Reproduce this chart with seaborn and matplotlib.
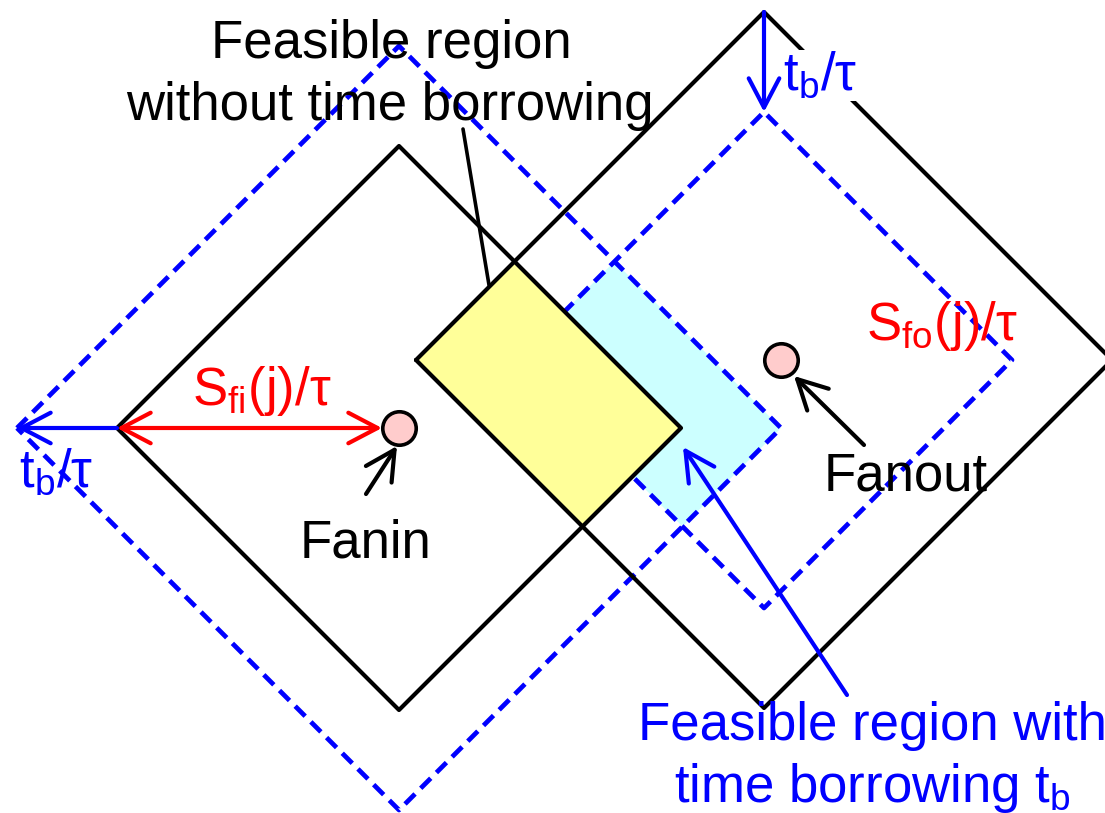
import pandas as pd
import seaborn as sns
import matplotlib.pyplot as plt

sns.set_theme(style="white")
plt.rcParams['font.family'] = ['Liberation Sans', 'DejaVu Sans']
plt.rcParams['text.color'] = 'black'
plt.rcParams['mathtext.fontset'] = 'custom'
plt.rcParams['mathtext.rm'] = 'Liberation Sans'
plt.rcParams['mathtext.it'] = 'Liberation Sans:italic'

# Diamonds: centre and half diagonal (pixel space, y down)
shape_names = ["fanin", "fanin_tb", "fanout", "fanout_tb"]
shape_cx = [399, 399, 764, 764]
shape_cy = [428, 428, 360, 360]
shape_half = [282, 382, 348, 248]
shape_kind = ["solid", "dashed", "solid", "dashed"]

# Fanin / fanout nodes
node_x = [399, 781]
node_y = [428, 360]
node_r = 17

BLUE = "#0000FF"
RED = "#FF0000"
FS = 38

rows = []
for name, x0, y0, h, kind in zip(shape_names, shape_cx, shape_cy, shape_half, shape_kind):
    for dx, dy in [(-1, 0), (0, -1), (1, 0), (0, 1), (-1, 0)]:
        rows.append({"shape": name, "kind": kind, "x": x0 + dx * h, "y": y0 + dy * h})
diamonds = pd.DataFrame(rows)


def overlap(i, j):
    # intersection of two diamonds, done in rotated coords u=x+y, v=x-y
    u_lo = max(shape_cx[i] + shape_cy[i] - shape_half[i], shape_cx[j] + shape_cy[j] - shape_half[j])
    u_hi = min(shape_cx[i] + shape_cy[i] + shape_half[i], shape_cx[j] + shape_cy[j] + shape_half[j])
    v_lo = max(shape_cx[i] - shape_cy[i] - shape_half[i], shape_cx[j] - shape_cy[j] - shape_half[j])
    v_hi = min(shape_cx[i] - shape_cy[i] + shape_half[i], shape_cx[j] - shape_cy[j] + shape_half[j])
    uv = [(u_lo, v_lo), (u_lo, v_hi), (u_hi, v_hi), (u_hi, v_lo)]
    return [(u + v) / 2 for u, v in uv], [(u - v) / 2 for u, v in uv]


fig = plt.figure(figsize=(11.05, 8.13), dpi=100)
ax = fig.add_axes([0, 0, 1, 1])

cx_, cy_ = overlap(1, 3)
ax.fill(cx_, cy_, color="#CCFFFF", zorder=1, lw=0)

sns.lineplot(data=diamonds[diamonds["kind"] == "dashed"], x="x", y="y", units="shape",
             estimator=None, sort=False, color=BLUE, linewidth=3.4,
             dashes=(3, 1.7), ax=ax, zorder=2)

yx_, yy_ = overlap(0, 2)
ax.fill(yx_, yy_, color="#FFFF99", zorder=3, lw=0)

sns.lineplot(data=diamonds[diamonds["kind"] == "solid"], x="x", y="y", units="shape",
             estimator=None, sort=False, color="black", linewidth=3,
             ax=ax, zorder=4)

sns.scatterplot(x=node_x, y=node_y, s=580, color="#FFCCCC", edgecolor="black",
                linewidth=2.6, ax=ax, zorder=6)


def arrow(tail, head, color, style="->", lw=3):
    ax.annotate("", xy=head, xytext=tail, zorder=5,
                arrowprops=dict(arrowstyle=style + ",head_length=1.05,head_width=0.55",
                                color=color, lw=lw, shrinkA=0, shrinkB=0,
                                mutation_scale=20))


# red slack arrows
arrow((shape_cx[0] - shape_half[0], shape_cy[0]), (node_x[0] - node_r, node_y[0]), RED, "<->")
arrow((node_x[1] + node_r, node_y[1]), (shape_cx[2] + shape_half[2] - 6, shape_cy[2]), RED, "<->")
# blue time borrowing shifts
arrow((shape_cx[0] - shape_half[0], shape_cy[0]), (shape_cx[1] - shape_half[1], shape_cy[1]), BLUE)
arrow((shape_cx[2], shape_cy[2] - shape_half[2]), (shape_cx[3], shape_cy[3] - shape_half[3]), BLUE)
# pointers
arrow((366, 494), (397, 446), "black")
arrow((864, 445), (794, 376), "black")
arrow((847, 695), (683, 447), BLUE)
ax.plot([463, 489], [129, 285], color="black", lw=2.6, zorder=5)

# labels
ax.text(391, 58, "Feasible region", fontsize=FS, ha="center", va="baseline", zorder=7)
ax.text(390, 120, "without time borrowing", fontsize=FS, ha="center", va="baseline", zorder=7)
ax.text(365, 557, "Fanin", fontsize=FS, ha="center", va="baseline", zorder=7)
ax.text(906, 490, "Fanout", fontsize=FS, ha="center", va="baseline", zorder=7)
ax.text(262, 405, r"S$_\mathrm{fi}$(j)/τ", fontsize=FS, color=RED, ha="center", va="baseline", zorder=7)
ax.text(942, 340, r"S$_\mathrm{fo}$(j)/τ", fontsize=FS, color=RED, ha="center", va="baseline", zorder=7)
ax.text(820, 90, r"t$_\mathrm{b}$/τ", fontsize=FS, color=BLUE, ha="center", va="baseline", zorder=7,
        bbox=dict(facecolor="white", edgecolor="none", pad=0))
ax.text(56, 487, r"t$_\mathrm{b}$/τ", fontsize=FS, color=BLUE, ha="center", va="baseline", zorder=7)
ax.text(872, 740, "Feasible region with", fontsize=FS, color=BLUE, ha="center", va="baseline", zorder=7)
ax.text(872, 802, r"time borrowing t$_\mathrm{b}$", fontsize=FS, color=BLUE, ha="center", va="baseline", zorder=7)

ax.set_xlim(0, 1105)
ax.set_ylim(813, 0)
ax.axis("off")

fig.savefig("out.png", dpi=100)
